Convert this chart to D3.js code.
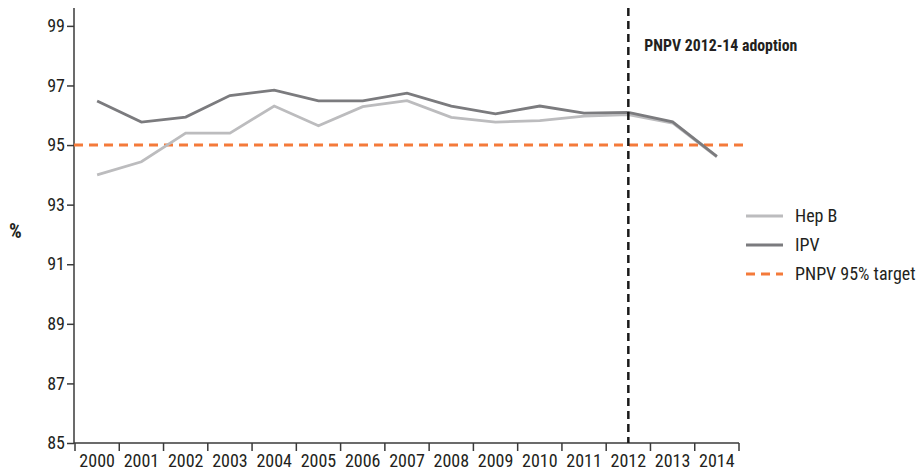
<!DOCTYPE html>
<html>
<head>
<meta charset="utf-8">
<script src="https://cdn.jsdelivr.net/npm/d3@7"></script>
<style>
  body { margin: 0; background: #fff; }
  svg text { font-family: "Liberation Sans Narrow", "Roboto Condensed", "Liberation Sans", sans-serif; fill: #231f20; }
</style>
</head>
<body>
<svg id="chart"></svg>
<script>
const w = 922;
const h = 472;

// data
const years = ["2000", "2001", "2002", "2003", "2004", "2005", "2006", "2007", "2008", "2009", "2010", "2011", "2012", "2013", "2014"];
const hepB = [94.0, 94.44, 95.4, 95.4, 96.31, 95.65, 96.29, 96.49, 95.93, 95.77, 95.82, 95.97, 96.02, 95.74, 94.6];
const ipv = [96.48, 95.77, 95.94, 96.66, 96.84, 96.48, 96.48, 96.74, 96.31, 96.05, 96.31, 96.07, 96.1, 95.78, 94.62];
const yTicks = [85, 87, 89, 91, 93, 95, 97, 99];
const target = 95;
const adoptionYear = "2012";

const series = [
  { name: "Hep B", values: hepB, color: "#bcbcbe" },
  { name: "IPV", values: ipv, color: "#7b7b7e" }
];

let svg = d3.select("#chart")
            .attr("width", w)
            .attr("height", h);

let xScale = d3.scaleBand()
               .domain(years)
               .range([75, 739])
               .padding(0);

let yScale = d3.scaleLinear()
               .domain([85, 99.6])
               .range([443, 8]);

const xMid = d => xScale(d) + xScale.bandwidth() / 2;

// axes
let yAxis = d3.axisLeft(yScale)
              .tickValues(yTicks)
              .tickSize(7)
              .tickPadding(2)
              .tickSizeOuter(0);

let gy = svg.append("g")
            .attr("id", "y-axis")
            .attr("transform", "translate(74, 0)")
            .call(yAxis);

let xAxis = d3.axisBottom(xScale)
              .tickSize(0)
              .tickPadding(11)
              .tickSizeOuter(0);

let gx = svg.append("g")
            .attr("id", "x-axis")
            .attr("transform", "translate(0, 443)")
            .call(xAxis);

// x ticks sit on band edges
gx.selectAll(".edge")
  .data(years.concat(["end"]))
  .enter()
  .append("line")
  .attr("class", "edge")
  .attr("x1", (d, i) => i < years.length ? xScale(d) : xScale.range()[1])
  .attr("x2", (d, i) => i < years.length ? xScale(d) : xScale.range()[1])
  .attr("y1", 0)
  .attr("y2", 8);

gx.select(".domain").attr("d", "M74,0H739");

[gx, gy].forEach(g => {
  g.selectAll(".domain, line").attr("stroke", "#3a3a3a").attr("stroke-width", 1.5);
  g.selectAll("text").attr("font-size", 18).attr("fill", "#2a2a2a");
});
gy.select(".domain").attr("d", "M0,8V443");

// target line
svg.append("line")
   .attr("x1", 74)
   .attr("x2", 745)
   .attr("y1", yScale(target))
   .attr("y2", yScale(target))
   .attr("stroke", "#f47a3a")
   .attr("stroke-width", 3)
   .attr("stroke-dasharray", "9,6");

// series lines
let line = d3.line()
             .x((d, i) => xMid(years[i]))
             .y(d => yScale(d));

svg.selectAll(".series")
   .data(series)
   .enter()
   .append("path")
   .attr("class", "series")
   .attr("d", d => line(d.values))
   .attr("fill", "none")
   .attr("stroke", d => d.color)
   .attr("stroke-width", 2.8);

// adoption marker
svg.append("line")
   .attr("x1", xMid(adoptionYear))
   .attr("x2", xMid(adoptionYear))
   .attr("y1", yScale(99.6))
   .attr("y2", yScale(85))
   .attr("stroke", "#1a1a1a")
   .attr("stroke-width", 2.5)
   .attr("stroke-dasharray", "8,5");

svg.append("text")
   .attr("x", xMid(adoptionYear) + 16)
   .attr("y", 51)
   .attr("font-size", 15.8)
   .attr("font-weight", "bold")
   .text("PNPV 2012-14 adoption");

svg.append("text")
   .attr("x", 9)
   .attr("y", 238)
   .attr("font-size", 20)
   .attr("font-weight", "bold")
   .text("%");

// legend
const legendItems = [
  { name: "Hep B", color: "#bcbcbe", dash: null },
  { name: "IPV", color: "#7b7b7e", dash: null },
  { name: "PNPV 95% target", color: "#f47a3a", dash: "9,6" }
];

let legend = svg.append("g").attr("transform", "translate(746, 216)");

let item = legend.selectAll("g")
                 .data(legendItems)
                 .enter()
                 .append("g")
                 .attr("transform", (d, i) => `translate(0, ${i * 29})`);

item.append("line")
    .attr("x1", 0)
    .attr("x2", 37)
    .attr("stroke", d => d.color)
    .attr("stroke-width", d => d.dash ? 3 : 2.8)
    .attr("stroke-dasharray", d => d.dash);

item.append("text")
    .attr("x", 49)
    .attr("y", 6)
    .attr("font-size", 18)
    .text(d => d.name);
</script>
</body>
</html>
